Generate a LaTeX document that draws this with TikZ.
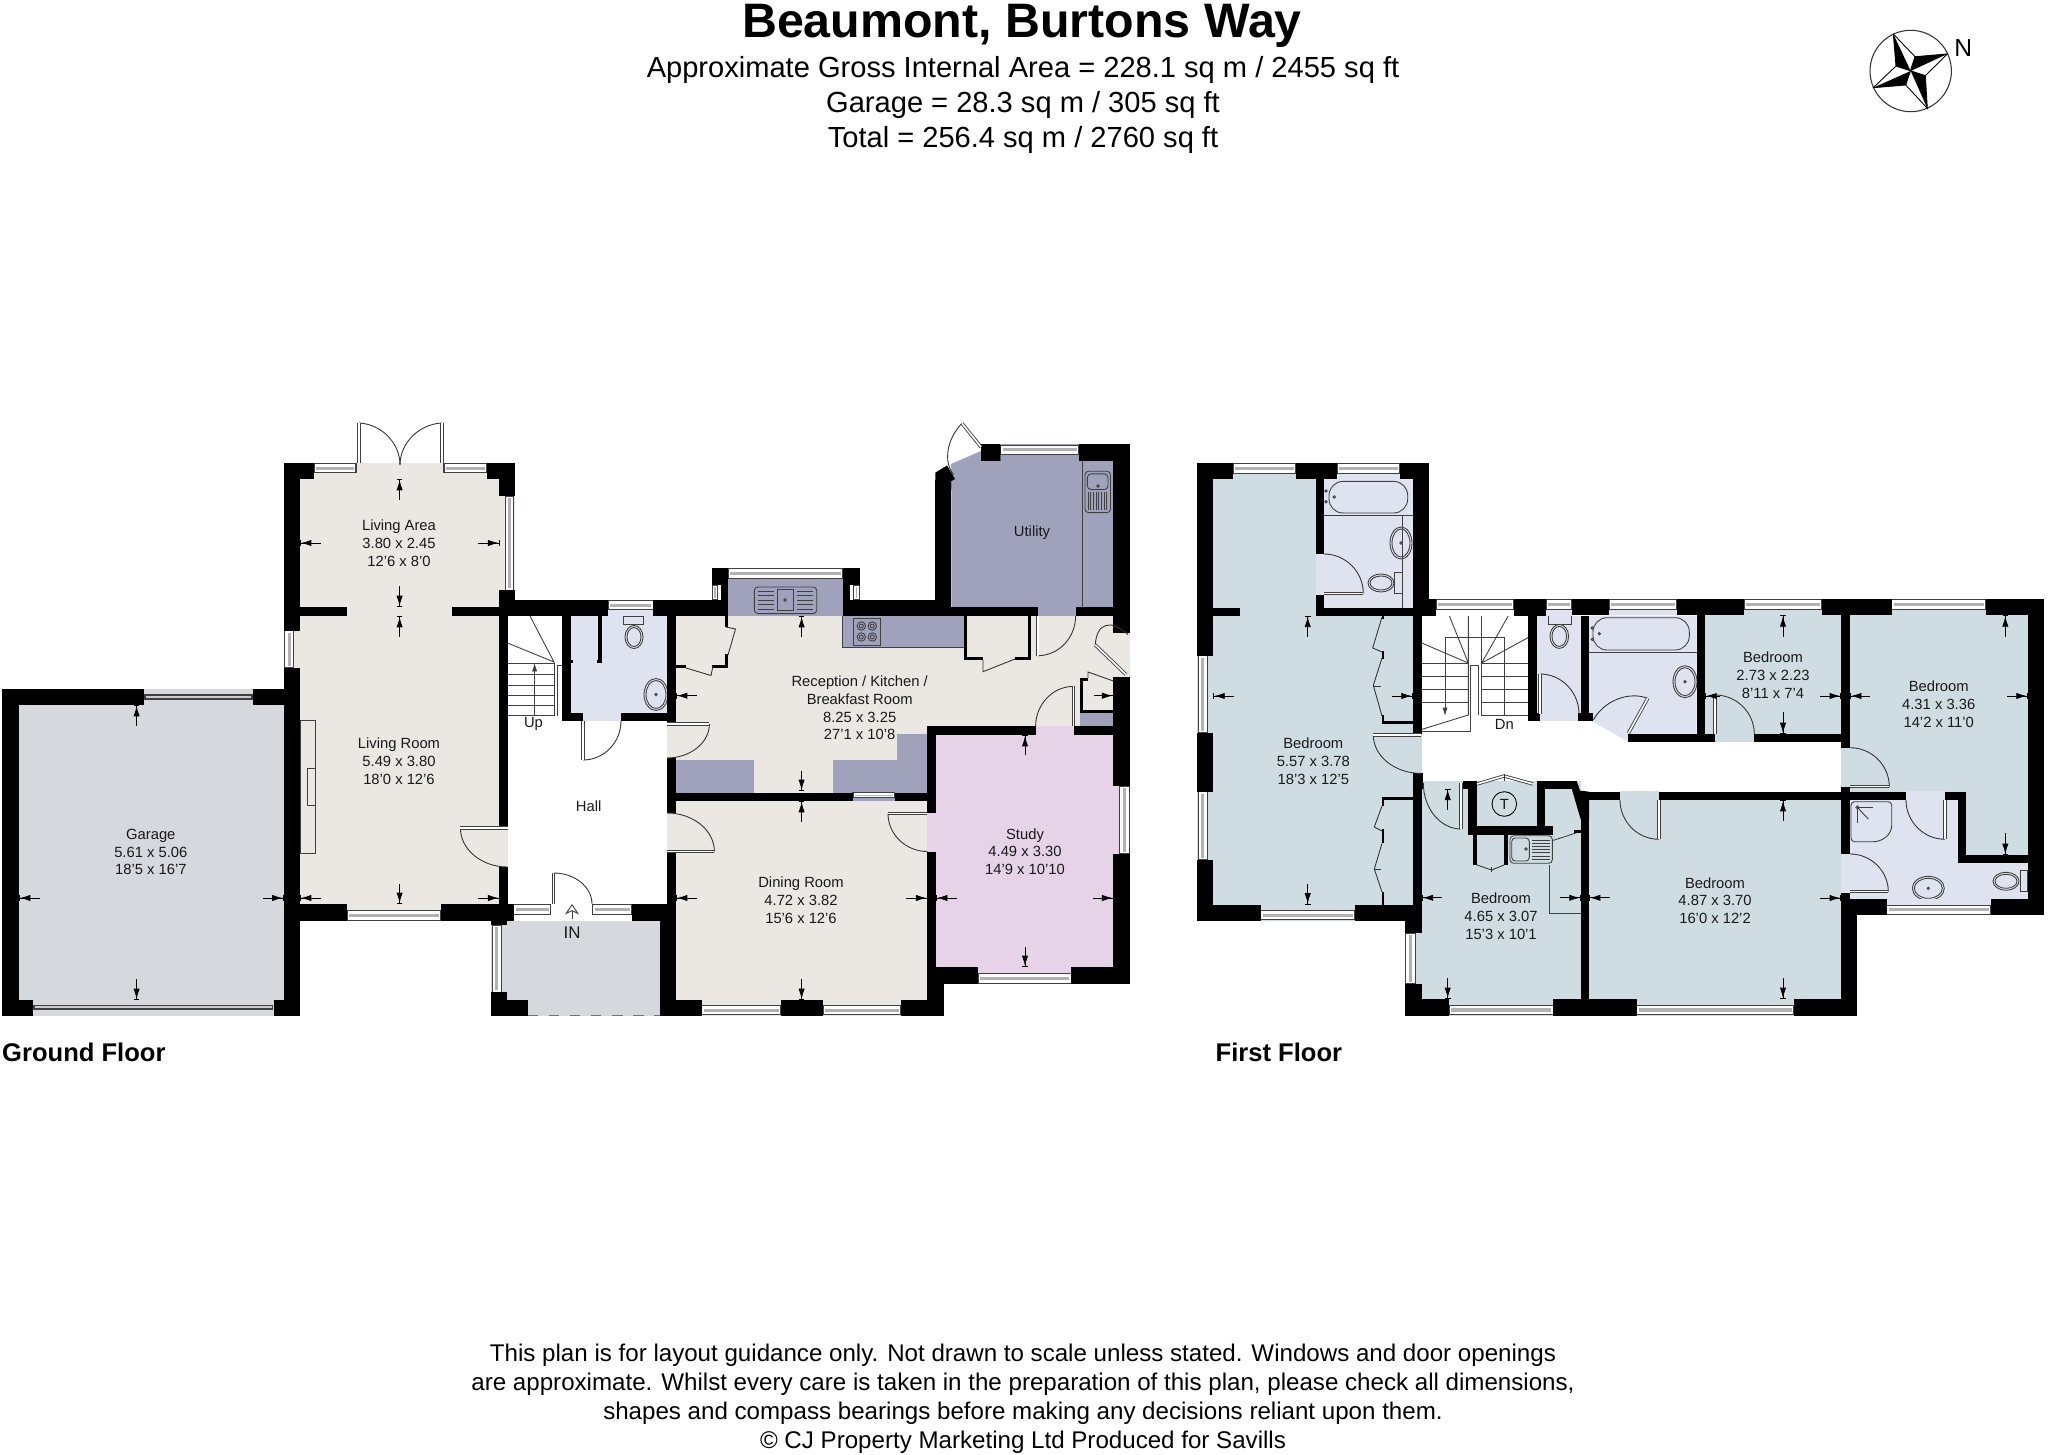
\documentclass[tikz,border=0pt]{standalone}
\usepackage{fontspec}
\setmainfont{Liberation Sans}
\usetikzlibrary{arrows.meta}
\definecolor{livingcol}{HTML}{EBE7E3}
\definecolor{garagecol}{HTML}{D5D8DD}
\definecolor{bathcol}{HTML}{DFE3F0}
\definecolor{unitcol}{HTML}{A0A2BC}
\definecolor{studycol}{HTML}{E6D3E8}
\definecolor{bedcol}{HTML}{CFDDE3}
\tikzset{
  wallpart/.style={fill=black},
  winframe/.style={fill=white,draw=black!75,line width=.3pt},
  winglass/.style={fill=black!30},
  leaf/.style={draw=black!75,line width=.25pt,double=white,double distance=.45pt},
  swing/.style={draw=black!80,line width=.25pt},
  fixture/.style={draw=black!75,line width=.25pt},
  dim/.style={draw=black,line width=.25pt,{Bar[width=1.6pt]Latex[length=3pt,width=1.8pt]}-},
  roomlabel/.style={font=\fontsize{4.2}{5.04}\selectfont,align=center,inner sep=0pt,text=black!90},
  headline/.style={font=\fontsize{8.27}{9.95}\selectfont,align=center,inner sep=0pt},
  footnote/.style={font=\fontsize{6.86}{8.25}\selectfont,align=center,inner sep=0pt},
  floorname/.style={font=\bfseries\fontsize{7.27}{9}\selectfont,inner sep=0pt}
}
\begin{document}
\begin{tikzpicture}[x=0.01cm,y=-0.01cm]
  \useasboundingbox (0,0) rectangle (2048,1455);
  % room floors
  \foreach \c/\xa/\ya/\xb/\yb in {
    garagecol/19/705/283.6/1000, garagecol/33/1000/274/1015.6, garagecol/507.4/921/660/1015.6,
    livingcol/300/479/499.4/904, livingcol/356/463/444/479, livingcol/499/828/507.5/867,
    bathcol/571/616/667/712.5, bathcol/583/712/621/721,
    livingcol/676/616/1113.4/726.4, livingcol/676/726/927.4/792.5, livingcol/667/723/676/758,
    livingcol/1113/632.6/1130.3/676.8,
    livingcol/676/801/927.4/1000, livingcol/667/813/676/851.5,
    unitcol/728.3/585/842.8/616, unitcol/842.8/616/964/647.3,
    unitcol/676/760/754.4/792.5, unitcol/832.7/760/927.4/792.5, unitcol/896.7/733.6/927.4/760,
    unitcol/1079.8/713.4/1113.4/726.4, unitcol/1037.7/607/1075.6/616,
    studycol/936/735/1113.4/967, studycol/927/813/936/851.5, studycol/1035.6/726/1073.5/735,
    bedcol/1213.3/479.5/1316/615.7, bedcol/1213.3/615.7/1412.7/904.6, bedcol/1412/734/1421.7/773.4,
    bathcol/1324/479.5/1412.7/607.7, bathcol/1316/554/1324/594.7,
    bathcol/1536.7/615.7/1580.7/721,
    bedcol/1705.3/615.3/1841/734, bedcol/1715/734/1754.3/741.7,
    bedcol/1421.7/781/1580.7/999,
    bedcol/1589/800/1841/999.3, bedcol/1620/791/1659/800,
    bedcol/1850/615.3/2027.7/791.7, bedcol/1965.7/791/2027.7/855, bedcol/1841/747.7/1850/786.7,
    bathcol/1850/800/1957.7/899.3, bathcol/1957/863.3/2027.7/899.3, bathcol/1906/791/1945/800, bathcol/1841/854/1850/893.3
  } \fill[\c] (\xa,\ya) rectangle (\xb,\yb);
  \fill[unitcol] (951.4,608) -- (951.4,481) -- (951,464) -- (981,451) -- (987,460.8) -- (1113.4,460.8) -- (1113.4,608) -- cycle;
  \fill[bathcol] (1589,615.5) -- (1696.7,615.5) -- (1696.7,734) -- (1628,741.7) -- (1593,721.7) -- (1589,721) -- cycle;
  % kitchen and utility fittings
  \draw[fixture] (842.8,616) -- (842.8,647.3) -- (964,647.3);
  \draw[fixture,rounded corners=1pt] (754.4,587) rectangle (816.7,613.6);
  \draw[fixture] (777,589.6) rectangle (793.6,610.7);
  \draw[fixture] (785,600) circle (1.2);
  \foreach \k in {0,...,4} {
    \draw[fixture] (758,{591+\k*4.5}) -- (774,{591+\k*4.5});
    \draw[fixture] (797,{591+\k*4.5}) -- (813,{591+\k*4.5});
  }
  \draw[fixture] (853.3,618.7) rectangle (880,645);
  \foreach \x in {861.3,872.3} \foreach \y in {626,637} {
    \draw[fixture] (\x,\y) circle (4.2);
    \draw[fixture] (\x,\y) circle (2);
  }
  \draw[fixture] (1082.7,460.8) -- (1082.7,607);
  \draw[fixture,rounded corners=1pt] (1085,471.3) rectangle (1110.5,512.6);
  \draw[fixture,rounded corners=1pt] (1087.4,473.9) rectangle (1108,489.5);
  \draw[fixture] (1098,486) circle (1.2);
  \foreach \k in {0,...,7} \draw[fixture] ({1088+\k*2.7},492) -- ({1088+\k*2.7},510);
  \draw[fixture,fill=livingcol] (300,720.5) rectangle (315,853);
  \draw[fixture] (307,768) rectangle (315,805);
  % ground floor stairs
  \foreach \y in {663,674.6,685.6,695,705,715.5} \draw[fixture] (507.5,\y) -- (554,\y);
  \draw[fixture] (507.5,643) -- (554,662) -- (530,616);
  \draw[fixture] (554,663) -- (554,715.5);
  \draw[fixture] (557,715.5) -- (557,665) -- (562,665);
  \draw[fixture,-{Latex[length=2.4pt,width=1.5pt]}] (534.6,715) -- (534.6,663);
  % first floor stairs
  \foreach \y in {663,676.6,689,702.6} {
    \draw[fixture] (1421.7,\y) -- (1468.3,\y);
    \draw[fixture] (1481.7,\y) -- (1528.3,\y);
  }
  \draw[fixture] (1421.7,643) -- (1468.3,663) -- (1449.3,615.7);
  \draw[fixture] (1528.3,637.5) -- (1481.7,663) -- (1508.3,615.7);
  \draw[fixture] (1468.3,615.7) -- (1468.3,715) -- (1421.7,729.4);
  \draw[fixture] (1481.7,615.7) -- (1481.7,715) -- (1528.3,715);
  \draw[fixture] (1445,637.5) -- (1504,637.5) -- (1504,715);
  \draw[fixture,fill=white] (1470.7,731.3) -- (1470.7,665) -- (1478.3,665) -- (1478.3,715);
  \draw[fixture] (1421.7,731.3) -- (1470.7,731.3);
  \draw[fixture,-{Latex[length=2.4pt,width=1.5pt]}] (1445,637.5) -- (1445,716);
  % toilets
  \foreach \xa/\ya/\xb/\yb/\x/\y/\rx/\ry in {
    623.5/616/643/624/634/637/9/11.5, 1394.3/572.5/1402.7/593.5/1381/583/13/9,
    1548.3/615.7/1571/624/1559.3/636.4/9.3/12, 2020/870.7/2027.7/891.7/2006/881.3/13/9
  } {
    \draw[fixture] (\xa,\ya) rectangle (\xb,\yb);
    \draw[fixture] (\x,\y) ellipse [x radius=\rx,y radius=\ry];
    \draw[fixture] (\x,\y) ellipse [x radius=\rx-2,y radius=\ry-2];
  }
  % basins
  \foreach \x/\y/\rx/\ry in {656/694.5/12/16, 1401/543/11/16, 1685/681.7/12/16, 1928.3/888.3/16/12} {
    \draw[fixture] (\x,\y) ellipse [x radius=\rx,y radius=\ry];
    \draw[fixture] (\x,\y) ellipse [x radius=\rx-2,y radius=\ry-2];
    \draw[fixture] (\x,\y) circle (1.2);
  }
  % baths
  \draw[fixture,rounded corners=4pt] (1329,481.4) rectangle (1407.7,513);
  \draw[fixture] (1324,515) -- (1412.7,515);
  \draw[fixture] (1402.7,515) -- (1402.7,607.7);
  \draw[fixture,rounded corners=4pt] (1593,617.7) rectangle (1689.3,650);
  \draw[fixture] (1589,652.7) -- (1696.7,652.7);
  \foreach \x/\y in {1326/491, 1326/501.7, 1334.3/497, 1592.3/628, 1592.3/639.4, 1599.3/633.7} \draw[fixture] (\x,\y) circle (1.2);
  % shower
  \draw[fixture,rounded corners=1pt] (1851,801.7) -- (1891.7,801.7) -- (1891.7,822) .. controls (1891.7,835) and (1882,841.7) .. (1870,841.7) -- (1851,841.7) -- cycle;
  \draw[fixture] (1857.3,807.3) circle (1.5);
  \draw[fixture] (1873,807.3) -- (1857.3,807.3) -- (1857.3,823);
  \draw[fixture] (1857.3,807.3) -- (1868.3,819);
  % bedroom basin and counter
  \draw[fixture,rounded corners=1pt] (1510,835.8) rectangle (1552.3,863.3);
  \draw[fixture,rounded corners=1pt] (1511.7,838) rectangle (1529.3,861);
  \draw[fixture] (1526,849) circle (1.2);
  \foreach \k in {0,...,6} \draw[fixture] (1532,{840+\k*3.2}) -- (1550,{840+\k*3.2});
  \draw[fixture] (1549.3,865) -- (1549.3,913) -- (1580.7,913);
  \draw[fixture] (1553.3,840.4) -- (1576.7,832.7);
  % windows
  \foreach \xa/\ya/\xb/\yb/\c in {
    314/463/356/479/livingcol, 444/463/487/479/livingcol, 347/921/441/904/livingcol,
    513.7/904/550.7/921/white, 592.8/904/631.5/921/white, 608.4/600/653.4/616/bathcol,
    728.3/568/842.8/585/unitcol, 853/792.5/894.6/801/unitcol, 701.8/1015.6/780.5/1000/livingcol,
    823/1015.6/901/1000/livingcol, 1000.6/444.4/1078.5/460.8/unitcol, 978/984/1071.4/967/studycol,
    1233.3/463/1296/479.5/bedcol, 1337.3/463/1400/479.5/bathcol, 1436/599/1514/615.7/white,
    1546/599/1572/615.7/bathcol, 1609.3/599/1676.7/615.3/bathcol, 1744/599/1822/615.3/bedcol,
    1891.7/599/1985.7/615.3/bedcol, 1260.7/920.7/1355/904.6/bedcol, 1449/1015.6/1553.3/999/bedcol,
    1636.7/1015.6/1794/999/bedcol, 1886.7/915/1991/899.3/bathcol} {
    \fill[\c] (\xa,\ya) rectangle (\xb,\yb);
    \draw[winframe] (\xa,{\ya+.05*(\yb-\ya)}) rectangle (\xb,{\ya+.62*(\yb-\ya)});
    \fill[winglass] (\xa+2,{\ya+.24*(\yb-\ya)}) rectangle (\xb-2,{\ya+.43*(\yb-\ya)});
  }
  \foreach \xa/\ya/\xb/\yb/\c in {
    514.7/496/499.4/590.5/livingcol, 283.6/630.5/300/667.5/livingcol, 491.4/925/507.4/992.4/garagecol,
    712.3/585/720.8/600/white, 859.7/585/850.4/600/white, 1130.3/786/1113.4/853.5/studycol,
    1197.3/655.5/1213.3/733/bedcol, 1197.3/791.7/1213.3/859.5/bedcol, 1405/933/1421.7/984/bedcol} {
    \fill[\c] (\xa,\ya) rectangle (\xb,\yb);
    \draw[winframe] ({\xa+.05*(\xb-\xa)},\ya) rectangle ({\xa+.62*(\xb-\xa)},\yb);
    \fill[winglass] ({\xa+.24*(\xb-\xa)},\ya+2) rectangle ({\xa+.43*(\xb-\xa)},\yb-2);
  }
  % garage doors
  \fill[garagecol] (143.5,688.5) rectangle (253.3,705);
  \draw[winframe,fill=black!20] (145,695) rectangle (252,699);
  \draw[winframe,fill=black!20] (34,1005.5) rectangle (272.5,1009);
  % walls, ground floor
  \foreach \xa/\ya/\xb/\yb in {
    2/688.5/143.5/705, 253.3/688.5/283.6/705, 2/688.5/19/1015.6, 2/1000/33/1015.6, 274/1000/299.6/1015.6,
    283.6/705/299.6/1015.6, 283.6/463/314/479, 487/463/514.7/479, 283.6/463/300/630.5, 283.6/667.5/300/921,
    499.4/463/514.7/496, 499.4/590.5/514.7/607, 499.4/607/507.5/828, 499.4/867/507.5/921,
    300/607/347/616, 451.6/607/499.4/616, 499.4/600/608.4/616, 653.4/600/728.3/616,
    283.6/904/347/921, 441/904/513.7/921, 631.5/904/676/921,
    562/616/571/721, 562/712.5/583/721, 621/712.5/676/721, 667/616/676/723, 667/758/676/813,
    667/851.5/676/904, 660/904/676/1015.6, 598/616/602/663, 597/660/602/663, 571/660/573/663,
    676/792.5/853/801, 894.6/792.5/927.4/801, 927.4/726.4/936/813, 927.4/851.5/936/1000, 927.4/984/943.8/1015.6,
    659.7/1000/701.8/1015.6, 780.5/1000/823/1015.6, 901/1000/943.8/1015.6,
    491.4/921/507.4/925, 491.4/992.4/507.4/1015.6, 491.4/1000/527.6/1015.6,
    712.3/568/728.3/585, 842.8/568/859.7/585, 720.8/585/728.3/616, 842.8/585/850.4/616, 712.3/600/728.3/616,
    842.8/600/951.4/616, 951.4/607.3/1037.7/616, 1075.6/607.3/1113.4/616,
    1113.4/444.4/1130.3/632.6, 1113.4/676.8/1130.3/786, 1113.4/853.5/1130.3/984,
    1000/444.4/980.9/460.8, 1078.5/444.4/1130.3/460.8, 935.4/480/951.4/607,
    725/616/728/627, 725/654/728/668, 676/665/686/668, 711.5/665/728/668,
    964/616/967.4/660, 1028/616/1031.4/660, 964/657/983/660, 1015/657/1031.4/660,
    1079.8/677.6/1083/713.4, 1079.8/710.4/1113.4/713.4, 1079.8/677.6/1088/681,
    927.4/726.4/1035.6/735, 1073.5/726.4/1113.4/735, 936/967/978/984, 1071.4/967/1130.3/984
  } \fill[wallpart] (\xa,\ya) rectangle (\xb,\yb);
  \fill[wallpart] (935.4,472.6) -- (947,465.5) -- (955,479) -- (951.4,481) -- (951.4,490) -- (935.4,490) -- cycle;
  \fill[wallpart] (980.9,444.4) -- (987,444.4) -- (1000.6,444.4) -- (1000.6,460.8) -- (987,460.8) -- cycle;
  % walls, first floor
  \foreach \xa/\ya/\xb/\yb in {
    1197.3/463/1233.3/479.5, 1296/463/1337.3/479.5, 1400/463/1429.3/479.5, 1197.3/463/1213.3/655.5,
    1197.3/733/1213.3/791.7, 1197.3/859.5/1213.3/920.7, 1213.3/607.7/1240/615.7, 1316/479.5/1324/554,
    1316/594.7/1324/607.7, 1316/607.7/1436/615.7, 1412.7/479.5/1429.3/599, 1412.7/599/1436/615.7,
    1514/599/1546/615.7, 1572/599/1609.3/615.3, 1676.7/599/1744/615.3, 1822/599/1891.7/615.3, 1985.7/599/2044.3/615.3,
    1412.7/615.7/1421.7/734, 1412.7/773.4/1421.7/920.7, 1197.3/904.6/1260.7/920.7, 1355/904.6/1421.7/920.7,
    1405/920.7/1421.7/933, 1405/984/1421.7/1015.6, 1405/999/1449/1015.6, 1553.3/999/1636.7/1015.6,
    1794/999/1857.3/1015.6, 1412.7/773.4/1423/789,
    1381.7/615.7/1384.3/619, 1381.7/651/1384.3/658.6, 1381.7/715/1384.3/723.6, 1381.7/720.6/1412.7/723.6,
    1381.7/797/1412.7/800, 1381.7/797/1384.3/806, 1381.7/829/1384.3/843.4, 1381.7/892/1384.3/904.6,
    1528.3/615.7/1536.7/721, 1580.7/615.7/1589/721, 1528.3/713/1540/721, 1578.3/713/1593/721,
    1628/734/1715/741.7, 1696.7/615/1705.3/734, 1754.3/734/1841/741.7, 1841/615.3/1850/747.7,
    1463.3/781/1476.7/788.7, 1468.3/781/1476.7/834.6, 1468.3/826/1553.3/834.6, 1536.7/781/1545/834.6,
    1536.7/781/1576.7/788.7, 1473.3/834.6/1477.3/865, 1504/834.6/1508.3/865, 1574/830/1580.7/833,
    1580.7/800/1589/999.3, 1578/791.7/1620/800, 1659/791.7/1906/800, 1945/791.7/1965.7/800,
    1841/786.7/1850/854, 1841/893.3/1850/915, 1841/899.3/1857.3/1015.6, 1841/899.3/1886.7/915,
    1991/899.3/2044.3/915, 2027.7/599/2044.3/915, 1957.7/791.7/1965.7/863.3, 1957.7/855/2027.7/863.3
  } \fill[wallpart] (\xa,\ya) rectangle (\xb,\yb);
  \fill[wallpart] (1571.7,788.7) -- (1576.7,781) -- (1580,790.6) -- (1589,791.7) -- (1589,819) -- (1580.7,819.3) -- cycle;
  % doors
  \foreach \px/\py/\ax/\ay/\bx/\by in {
    507.5/828/460.4/828/507.5/867, 359/463/359/423/400/465, 442/463/442/423/400/465, 583/721/583/760/621/721,
    667/724/709.4/724/667/758, 667/851.5/714.4/851.5/667/813, 927.4/813.5/888/813.5/927.4/851.5,
    553.7/904/553.7/873/592/904, 1037.7/616/1037.7/655.7/1075.6/616, 1073.5/726.4/1073.5/686.4/1035.6/726.4,
    981/447/962/423.4/953.5/474.7, 1126/674.6/1095.3/645/1128/634.7,
    1324/593.5/1363.3/593.5/1324/554, 1421/735/1373.3/735/1421/773.4, 1540/714/1540/674/1579/714,
    1628.3/733.3/1647.7/698.3/1593.3/720, 1715/734/1715/695/1754.3/734, 1461/783/1461/829/1423.3/783,
    1659/800/1659/839.3/1620/800, 1850/786.7/1889.3/786.7/1850/747.7, 1850/891.7/1888.3/891.7/1850/854,
    1945/800/1945/839.3/1906/800
  } {
    \draw[swing] (\ax,\ay) .. controls ({\ax+.55*(\bx-\px)},{\ay+.55*(\by-\py)}) and ({\bx+.55*(\ax-\px)},{\by+.55*(\ay-\py)}) .. (\bx,\by);
    \draw[leaf] (\px,\py) -- (\ax,\ay);
  }
  % cupboard doors
  \draw[swing] (726,627) -- (735.5,629) -- (728,655);
  \draw[swing] (686,668) -- (711,675.5) -- (713,666);
  \draw[swing] (983,660) -- (983,671.7) -- (1015,659);
  \draw[swing] (1088,678) -- (1088,672) -- (1113.4,681);
  \draw[swing] (1382,617) -- (1372.7,648) -- (1382,652);
  \draw[swing] (1382,658) -- (1373.3,685.4) -- (1382,716);
  \draw[swing] (1373.3,686) -- (1381,686);
  \draw[swing] (1382,806) -- (1374.3,827) -- (1382,831);
  \draw[swing] (1382,843.4) -- (1374.3,869) -- (1382,892);
  \draw[swing] (1374.3,869) -- (1381,869);
  \draw[swing] (1477,865) -- (1491.7,870) -- (1504,865);
  \draw[swing] (1491.7,867) -- (1491.7,872);
  \draw[leaf] (1477,784) -- (1504,776) -- (1533,784);
  \draw[swing] (1504,774) -- (1504,781);
  \draw[dashed,draw=black!55,line width=.25pt] (527.6,1015) -- (660,1015);
  % measuring arrows
  \foreach \xa/\ya/\xb/\yb in {
    300/543/320.7/543, 499.4/543/478.4/543, 399.6/479/399.6/500, 399.6/607/399.6/586,
    399.6/616/399.6/637, 399.6/904/399.6/884, 300/898/321/898, 499.4/898/478/898,
    19/898/40/898, 283.6/898/263/898, 136.6/705/136.6/726, 136.6/1000/136.6/979,
    801.6/616/801.6/637, 801.6/791/801.6/770.6, 676/695.7/697/695.7, 1113.4/695.7/1093.7/695.7,
    801.6/801/801.6/822, 801.6/1000/801.6/979, 676/898/697/898, 927.4/898/906/898,
    1025/735/1025/755, 1025/967/1025/946.5, 936/898/957/898, 1113.4/898/1093/898,
    1213.3/696/1234.3/696, 1412.7/696/1392.3/696, 1307.7/615.7/1307.7/636.8, 1307.7/904.6/1307.7/883.6,
    1421.7/897.8/1442.3/897.8, 1580.7/897.8/1560/897.8, 1447.7/788.7/1447.7/809.7, 1447.7/999/1447.7/978,
    1589/897.8/1610/897.8, 1841/898/1820/898, 1783/800/1783/821, 1783/999/1783/978,
    1783/615.3/1783/636.7, 1783/734/1783/712.3, 1705.3/696/1720/696, 1841/696/1820/696,
    1850/696/1870/696, 2027.7/696/2007.3/696, 2005.3/615.3/2005.3/636.7, 2005.3/855/2005.3/833.3
  } \draw[dim] (\xa,\ya) -- (\xb,\yb);
  \draw[fixture,-{Stealth[open,length=3pt,width=4pt]}] (572,919) -- (572,904);
  % compass
  \draw[draw=black!80,line width=.3pt] (1910.7,71) circle (40.7);
  \fill (1893.3,34) -- (1910.7,71) -- (1896,66) -- cycle;
  \fill (1947.3,54) -- (1910.7,71) -- (1915,56.7) -- cycle;
  \fill (1927.3,108.3) -- (1910.7,71) -- (1925.3,75.7) -- cycle;
  \fill (1873.3,87.7) -- (1910.7,71) -- (1905.7,85) -- cycle;
  \draw[line width=.25pt] (1893.3,34) -- (1915,56.7) -- (1947.3,54) -- (1925.3,75.7) -- (1927.3,108.3) -- (1905.7,85) -- (1873.3,87.7) -- (1896,66) -- cycle;
  \draw[line width=.25pt] (1915,56.7) -- (1905.7,85) (1896,66) -- (1925.3,75.7);
  % text
  \node[font=\bfseries\fontsize{13.75}{16}\selectfont,inner sep=0pt] (title) at (1022,26) {Beaumont, Burtons Way};
  \node[headline] (areas) at (1023,104.6) {Approximate Gross Internal Area = 228.1 sq m / 2455 sq ft\\Garage = 28.3 sq m / 305 sq ft\\Total = 256.4 sq m / 2760 sq ft};
  \node[font=\fontsize{7}{8}\selectfont,inner sep=0pt] (north) at (1963.3,48) {N};
  \node[roomlabel] (garage) at (150.8,852) {Garage\\5.61 x 5.06\\18'5 x 16'7};
  \node[roomlabel] (livingarea) at (399,543) {Living Area\\3.80 x 2.45\\12'6 x 8'0};
  \node[roomlabel] (livingroom) at (399,761) {Living Room\\5.49 x 3.80\\18'0 x 12'6};
  \node[roomlabel] (kitchen) at (859.7,708) {Reception / Kitchen /\\Breakfast Room\\8.25 x 3.25\\27'1 x 10'8};
  \node[roomlabel] (utility) at (1032,533) {Utility};
  \node[roomlabel] (dining) at (801,900.4) {Dining Room\\4.72 x 3.82\\15'6 x 12'6};
  \node[roomlabel] (study) at (1025,851.6) {Study\\4.49 x 3.30\\14'9 x 10'10};
  \node[roomlabel] (hall) at (588.6,806) {Hall};
  \node[roomlabel] (up) at (533.5,724) {Up};
  \node[roomlabel,font=\fontsize{4.8}{5.6}\selectfont] (entry) at (572,932.6) {IN};
  \node[roomlabel] (bedone) at (1313.3,761) {Bedroom\\5.57 x 3.78\\18'3 x 12'5};
  \node[roomlabel] (bedtwo) at (1501,916) {Bedroom\\4.65 x 3.07\\15'3 x 10'1};
  \node[roomlabel] (bedthree) at (1715,900.7) {Bedroom\\4.87 x 3.70\\16'0 x 12'2};
  \node[roomlabel] (bedfour) at (1773,675) {Bedroom\\2.73 x 2.23\\8'11 x 7'4};
  \node[roomlabel] (bedfive) at (1938.7,704.3) {Bedroom\\4.31 x 3.36\\14'2 x 11'0};
  \node[roomlabel] (down) at (1504.3,724) {Dn};
  \node[roomlabel,draw,circle,minimum size=7pt,line width=.25pt] (tank) at (1504.3,804) {T};
  \node[floorname,anchor=west] (groundfloor) at (1.5,1052) {Ground Floor};
  \node[floorname,anchor=west] (firstfloor) at (1215,1052) {First Floor};
  \node[footnote] (disclaimer) at (1023,1398.5) {This plan is for layout guidance only. Not drawn to scale unless stated. Windows and door openings\\are approximate. Whilst every care is taken in the preparation of this plan, please check all dimensions,\\shapes and compass bearings before making any decisions reliant upon them.\\© CJ Property Marketing Ltd Produced for Savills};
\end{tikzpicture}
\end{document}
